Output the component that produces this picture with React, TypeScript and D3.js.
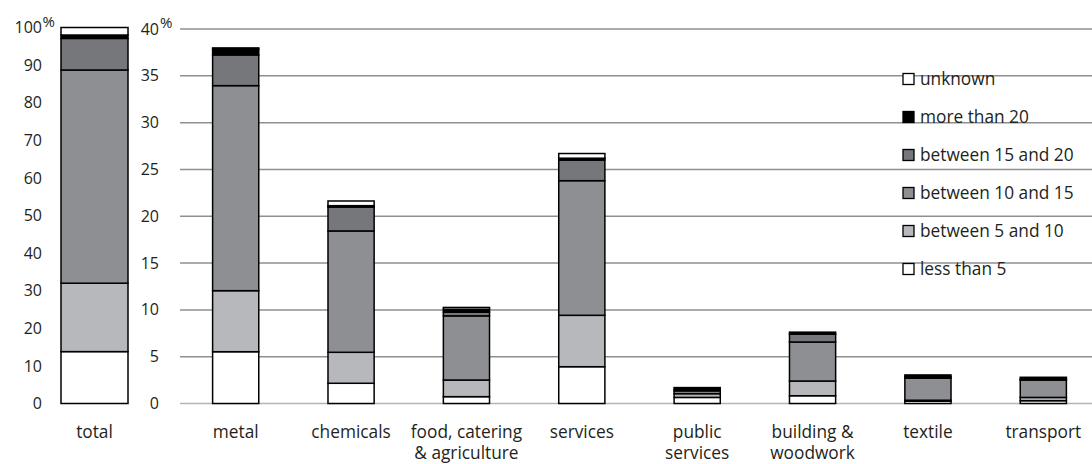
import React from "react";
import * as d3 from "d3";

const seriesKeys = ["lessThan5", "between5and10", "between10and15", "between15and20", "moreThan20", "unknown"];
const seriesLabels = ["less than 5", "between 5 and 10", "between 10 and 15", "between 15 and 20", "more than 20", "unknown"];
const seriesColors = ["#ffffff", "#b7b8bb", "#8e8f93", "#76777b", "#000000", "#ffffff"];

const categories = ["metal", "chemicals", "food, catering & agriculture", "services", "public services", "building & woodwork", "textile", "transport"];
const categoryLabelLines = [["metal"], ["chemicals"], ["food, catering", "& agriculture"], ["services"], ["public", "services"], ["building &", "woodwork"], ["textile"], ["transport"]];

const lessThan5 = [5.53, 2.16, 0.73, 3.93, 0.65, 0.83, 0.25, 0.3];
const between5and10 = [6.52, 3.31, 1.78, 5.49, 0.4, 1.57, 0.1, 0.35];
const between10and15 = [21.9, 12.96, 6.85, 14.38, 0.3, 4.17, 2.35, 1.85];
const between15and20 = [3.28, 2.55, 0.4, 2.2, 0.15, 0.85, 0.15, 0.1];
const moreThan20 = [0.6, 0.15, 0.3, 0.2, 0.2, 0.2, 0.2, 0.2];
const unknown = [0.15, 0.5, 0.2, 0.5, 0, 0, 0, 0];

const totalLabel = "total";
const totalValues = [13.8, 18.2, 56.7, 8.4, 0.9, 2.0];

const leftTicks = [0, 10, 20, 30, 40, 50, 60, 70, 80, 90, 100];
const rightTicks = [0, 5, 10, 15, 20, 25, 30, 35, 40];

const FONT = "'Open Sans', sans-serif";
const LABEL_SIZE = 17.3;
const TICK_SIZE = 16;

export default function App() {
  const W = 1092, H = 464;
  const yLeft = d3.scaleLinear().domain([0, 100]).range([403.5, 27.5]);
  const yRight = d3.scaleLinear().domain([0, 40]).range([403.5, 29]);
  const x = d3.scaleBand<string>().domain(categories).range([178, 1101]).paddingInner(0.6).paddingOuter(0.3);
  const totalX = 61, totalW = 67;

  const rows = categories.map((c, i) => {
    const r: any = { cat: c };
    const arrs = [lessThan5, between5and10, between10and15, between15and20, moreThan20, unknown];
    seriesKeys.forEach((k, j) => (r[k] = arrs[j][i]));
    return r;
  });
  const stacked = d3.stack().keys(seriesKeys)(rows);

  const totalRow: any = {};
  seriesKeys.forEach((k, j) => (totalRow[k] = totalValues[j]));
  const totalStack = d3.stack().keys(seriesKeys)([totalRow]);

  const legendY = d3.scalePoint<string>().domain([...seriesLabels].reverse()).range([79, 269]);

  return (
    <svg width={W} height={H} style={{ display: "block", position: "absolute", left: 0, top: 0 }} fontFamily={FONT}>
      <rect width={W} height={H} fill="#fff" />
      {/* gridlines */}
      {rightTicks.map((t) => (
        <line key={t} x1={180} x2={1092} y1={yRight(t)} y2={yRight(t)} stroke={t === 0 ? "#b5b5b5" : "#8f8f8f"} strokeWidth={1.5} />
      ))}
      {/* left axis labels */}
      {leftTicks.map((t) => (
        <text key={t} x={42} y={yLeft(t)} dy="0.35em" textAnchor="end" fontSize={TICK_SIZE} fill="#231f20">{t}</text>
      ))}
      <text x={42.5} y={27} fontSize={15} fill="#231f20">%</text>
      {/* right axis labels */}
      {rightTicks.map((t) => (
        <text key={t} x={159} y={yRight(t)} dy="0.35em" textAnchor="end" fontSize={TICK_SIZE} fill="#231f20">{t}</text>
      ))}
      <text x={160} y={27.5} fontSize={15} fill="#231f20">%</text>

      {/* total bar */}
      {totalStack.map((s, j) => (
        <rect key={j} x={totalX} width={totalW} y={yLeft(s[0][1])} height={Math.max(0, yLeft(s[0][0]) - yLeft(s[0][1]))}
          fill={seriesColors[j]} stroke="#000" strokeWidth={1.5} />
      ))}
      <text x={totalX + totalW / 2} y={438} textAnchor="middle" fontSize={LABEL_SIZE} fill="#231f20">{totalLabel}</text>

      {/* category bars */}
      {stacked.map((s, j) =>
        s.map((d, i) => {
          const h = yRight(d[0]) - yRight(d[1]);
          if (h <= 0) return null;
          return (
            <rect key={j + "-" + i} x={x(categories[i])} width={x.bandwidth()} y={yRight(d[1])} height={h}
              fill={seriesColors[j]} stroke="#000" strokeWidth={1.5} />
          );
        })
      )}
      {categories.map((c, i) =>
        categoryLabelLines[i].map((l, k) => (
          <text key={c + k} x={(x(c) as number) + x.bandwidth() / 2} y={438 + k * 21} textAnchor="middle" fontSize={LABEL_SIZE} fill="#231f20">{l}</text>
        ))
      )}

      {/* legend */}
      {seriesLabels.map((l, j) => (
        <g key={l} transform={`translate(903, ${legendY(l)})`}>
          <rect x={0} y={-5.5} width={11} height={11} fill={seriesColors[j]} stroke="#000" strokeWidth={1.3} />
          <text x={17} y={0} dy="0.35em" fontSize={LABEL_SIZE} fill="#231f20">{l}</text>
        </g>
      ))}
    </svg>
  );
}
